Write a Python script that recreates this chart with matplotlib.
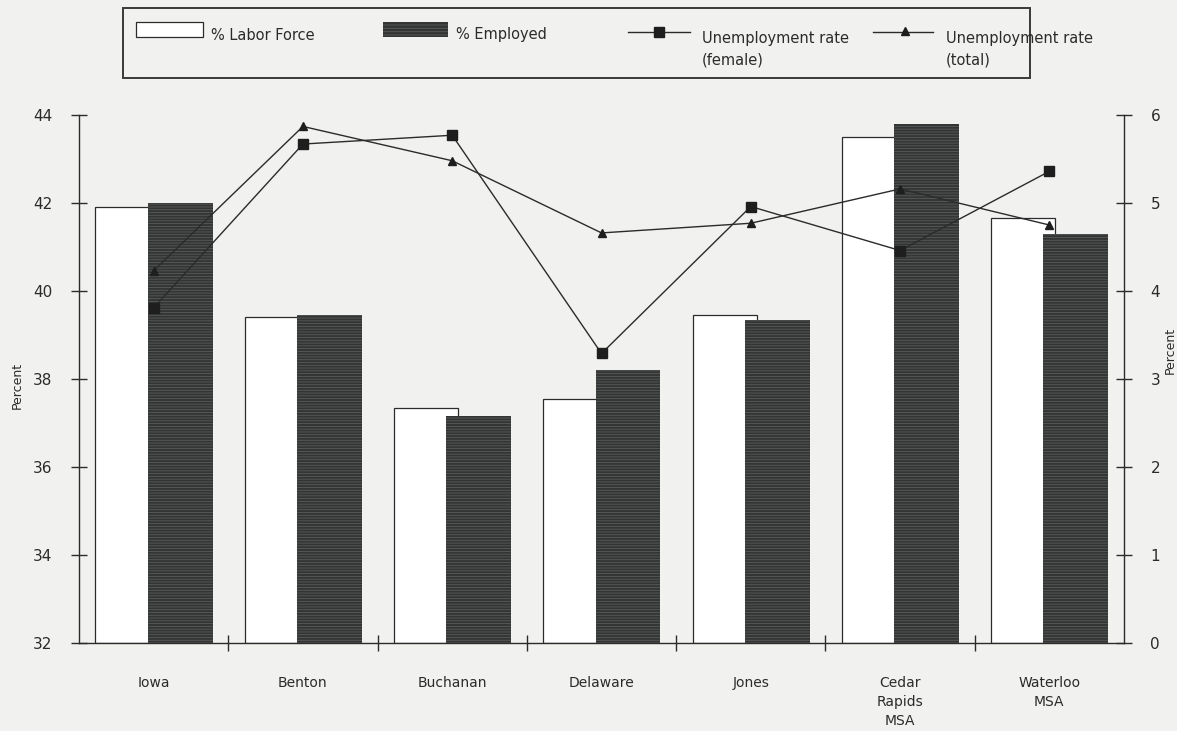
import matplotlib
matplotlib.use("Agg")
import matplotlib.pyplot as plt
from matplotlib.patches import Rectangle
import numpy as np

# County figures: labor force / employment share and unemployment rates
counties = ['Iowa', 'Benton', 'Buchanan', 'Delaware', 'Jones',
            'Cedar\nRapids\nMSA', 'Waterloo\nMSA']
labor_force = [41.9, 39.4, 37.35, 37.55, 39.45, 43.5, 41.65]
employed = [42.0, 39.45, 37.15, 38.2, 39.35, 43.8, 41.3]
unemp_female = [3.81, 5.67, 5.77, 3.29, 4.96, 4.46, 5.36]
unemp_total = [4.23, 5.87, 5.48, 4.66, 4.77, 5.16, 4.75]

left_ticks = [32, 34, 36, 38, 40, 42, 44]
right_ticks = [0, 1, 2, 3, 4, 5, 6]

bg = '#f1f1ef'
ink = '#2b2b2b'
dark_fill = '#323534'

plt.rcParams['font.family'] = ['DejaVu Sans']
plt.rcParams['hatch.linewidth'] = 0.6

W, H = 1177, 731
fig = plt.figure(figsize=(W / 100, H / 100), dpi=100, facecolor=bg)

# main axes placed in pixel terms
x0, x1, ytop, ybot = 79, 1124, 115, 643
ax = fig.add_axes([x0 / W, (H - ybot) / H, (x1 - x0) / W, (ybot - ytop) / H])
ax.set_facecolor('none')

x = np.arange(len(counties))
ax.bar(x - 0.39, np.array(labor_force) - 32, width=0.43, bottom=32, align='edge',
       facecolor='white', edgecolor=ink, linewidth=0.9, zorder=2)
ax.bar(x - 0.04, np.array(employed) - 32, width=0.435, bottom=32, align='edge',
       facecolor=dark_fill, edgecolor='#595c5b', hatch='------', linewidth=0,
       zorder=3)

ax.set_xlim(-0.5, len(counties) - 0.5)
ax.set_ylim(32, 44)
ax.set_yticks(left_ticks)
ax.set_xticks(x[:-1] + 0.5)
ax.set_xticklabels([])
ax.set_xticks(x, minor=True)
ax.set_xticklabels(counties, minor=True, fontsize=10, color=ink, linespacing=1.45)
ax.tick_params(axis='x', which='major', direction='inout', length=11, width=1, color=ink)
ax.tick_params(axis='x', which='minor', length=0, pad=24)
ax.tick_params(axis='y', direction='inout', length=12, width=1, color=ink,
               labelsize=11, labelcolor=ink, pad=13)
for side in ['top', 'right']:
    ax.spines[side].set_visible(False)
for side in ['left', 'bottom']:
    ax.spines[side].set_color(ink)
    ax.spines[side].set_linewidth(1)

# unemployment rates on the right axis
ax2 = ax.twinx()
ax2.plot(x, unemp_female, color=ink, linewidth=1, marker='s', markersize=6.5,
         markerfacecolor='#1e1e1e', markeredgecolor='#1e1e1e', zorder=5)
ax2.plot(x, unemp_total, color=ink, linewidth=1, marker='^', markersize=6,
         markerfacecolor='#1e1e1e', markeredgecolor='#1e1e1e', zorder=5)
ax2.set_ylim(0, 6)
ax2.set_yticks(right_ticks)
ax2.tick_params(axis='y', direction='inout', length=12, width=1, color=ink,
                labelsize=11, labelcolor=ink, pad=13)
for side in ['top', 'left', 'bottom']:
    ax2.spines[side].set_visible(False)
ax2.spines['right'].set_color(ink)
ax2.spines['right'].set_linewidth(1)

# overlay in pixel coordinates for the legend box and axis titles
ov = fig.add_axes([0, 0, 1, 1])
ov.set_xlim(0, W)
ov.set_ylim(H, 0)
ov.axis('off')
ov.patch.set_visible(False)

ov.add_patch(Rectangle((123, 8), 907, 70, facecolor='none', edgecolor='#3a3a3a',
                       linewidth=1.4))
ov.add_patch(Rectangle((136, 22), 67, 15, facecolor='white', edgecolor=ink,
                       linewidth=0.9))
ov.text(211, 35, '% Labor Force', fontsize=10.5, color=ink, va='center')
ov.add_patch(Rectangle((383, 22), 65, 15, facecolor=dark_fill, edgecolor='#595c5b',
                       hatch='-----', linewidth=0))
ov.text(456, 35, '% Employed', fontsize=10.5, color=ink, va='center')

ov.plot([628, 690], [32, 32], color=ink, linewidth=1)
ov.plot([659], [32], marker='s', markersize=6.5, color='#1e1e1e')
ov.text(702, 38, 'Unemployment rate', fontsize=10.5, color=ink, va='center')
ov.text(702, 60, '(female)', fontsize=10.5, color=ink, va='center')

ov.plot([873, 933], [32, 32], color=ink, linewidth=1)
ov.plot([905], [31], marker='^', markersize=6, color='#1e1e1e')
ov.text(946, 38, 'Unemployment rate', fontsize=10.5, color=ink, va='center')
ov.text(946, 60, '(total)', fontsize=10.5, color=ink, va='center')

ov.text(17, 385, 'Percent', fontsize=9, color=ink, rotation=90,
        ha='center', va='center')
ov.text(1170, 350, 'Percent', fontsize=9, color=ink, rotation=90,
        ha='center', va='center')

fig.savefig('out.png', dpi=100, facecolor=bg)
